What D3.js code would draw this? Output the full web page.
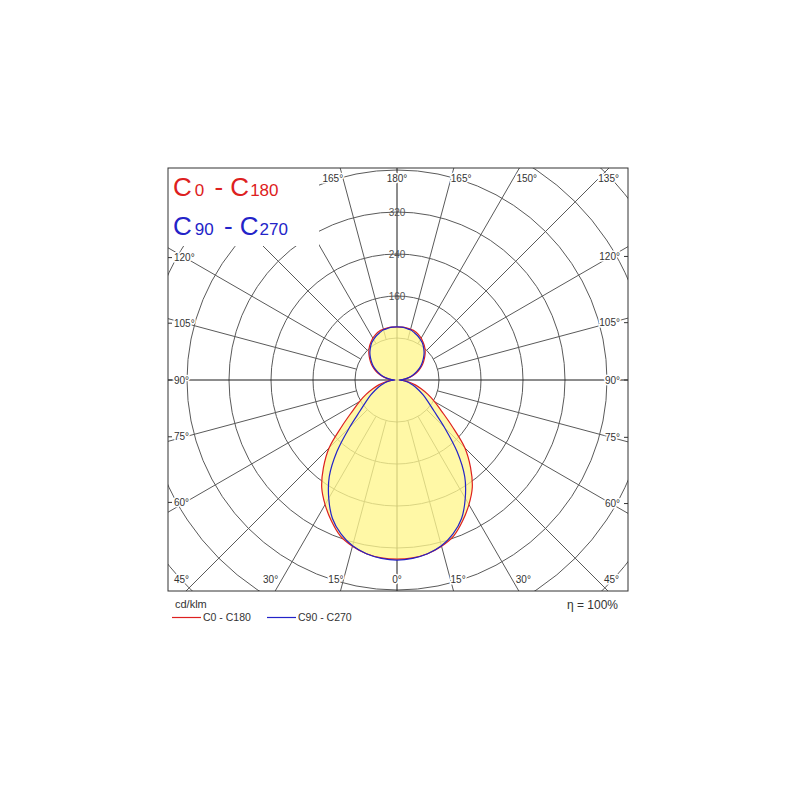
<!DOCTYPE html>
<html><head><meta charset="utf-8">
<script src="https://cdn.jsdelivr.net/npm/d3@7"></script>
<style>body{margin:0;background:#fff;} svg{display:block;font-family:Arial,"Liberation Sans",sans-serif;}</style>
</head><body><svg id="chart" width="800" height="800"></svg>
<script>
// gamma angle (0 = straight down, 180 = straight up), degrees
const gammaAngles = [0,5,10,15,20,25,30,35,40,45,50,55,60,65,70,75,80,85,90,95,100,105,110,115,120,125,130,135,140,145,150,155,160,165,170,175,180];
// luminous intensity, cd/klm
const c0c180  = [341,340,336,328,316,296,274,250,218,183,137,104,83,65,49,36,24,13,5,13,21,30,39,47,55,62,69,76,82,87,92,96,99,100,101,101,101];
const c90c270 = [343,341,336,327,312,291,260,225,178,128,92,72,58,46,36,27,19,11,4,12,20,28,36,44,52,59,66,73,79,85,89,93,96,99,100,101,101];
const ringValues = [80,160,240,320,400,480,560,640];
const ringLabels = [160,240,320];
const gridAngles = d3.range(0,360,15);
const seriesNames = ["C0 - C180","C90 - C270"];
const unitLabel = "cd/klm";
const efficiencyLabel = "\u03b7 = 100%";

const svg = d3.select("#chart");
const frame = {x0:168, y0:168, x1:628, y1:591};
const legendBox = {x:168, y:168, w:151, h:78};
const cx = 397, cy = 380;
const r = d3.scaleLinear().domain([0,80]).range([0,42]);
const red = "#dd2020", blue = "#2323c8";

svg.append("defs").append("clipPath").attr("id","clip")
  .append("rect").attr("x",frame.x0).attr("y",frame.y0)
  .attr("width",frame.x1-frame.x0).attr("height",frame.y1-frame.y0);

const g = svg.append("g").attr("clip-path","url(#clip)");
const c = g.append("g").attr("transform",`translate(${cx},${cy})`);

// rings
c.selectAll("circle.ring").data(ringValues).join("circle")
  .attr("r",d=>r(d)).attr("fill","none").attr("stroke","#5a5a5a").attr("stroke-width",1);
// radial lines
const rad = a => a*Math.PI/180;
c.selectAll("line.rad").data(gridAngles).join("line")
  .attr("x1",d=> d%90===0 ? 0 : r(80)*Math.sin(rad(d)))
  .attr("y1",d=> d%90===0 ? 0 : -r(80)*Math.cos(rad(d)))
  .attr("x2",d=>500*Math.sin(rad(d)))
  .attr("y2",d=>-500*Math.cos(rad(d)))
  .attr("stroke",d=>d%90===0?"#1a1a1a":"#5a5a5a").attr("stroke-width",1);

// curves
function pts(vals){
  const p=[];
  gammaAngles.forEach((gm,i)=>p.push({a:Math.PI-rad(gm), v:vals[i]}));
  for(let i=gammaAngles.length-2;i>=1;i--) p.push({a:Math.PI+rad(gammaAngles[i]), v:vals[i]});
  return p;
}
const line = d3.lineRadial().angle(d=>d.a).radius(d=>r(d.v)).curve(d3.curveCatmullRomClosed.alpha(0.5));
const fillG = c.append("g").attr("opacity",0.78);
[c0c180,c90c270].forEach(v=>fillG.append("path").attr("d",line(pts(v))).attr("fill","#fff78e"));
c.append("path").attr("d",line(pts(c0c180))).attr("fill","none").attr("stroke",red).attr("stroke-width",1.2);
c.append("path").attr("d",line(pts(c90c270))).attr("fill","none").attr("stroke",blue).attr("stroke-width",1.2);

// ring labels
c.selectAll("text.rl").data(ringLabels).join("text")
  .attr("x",0).attr("y",d=>-r(d)+3.5).attr("text-anchor","middle")
  .attr("font-size",10).attr("fill","#555").text(d=>d);

// legend background box (covers grid in the top-left corner)
svg.append("rect").attr("x",legendBox.x).attr("y",legendBox.y).attr("width",legendBox.w).attr("height",legendBox.h).attr("fill","#fff");

// angle labels
const lab = svg.append("g").attr("font-size",10).attr("fill","#333");
gridAngles.forEach(th=>{
  const val = th<=180 ? 180-th : th-180;
  const s = Math.sin(rad(th)), co = -Math.cos(rad(th));
  const ts = [];
  if (co<-1e-9) ts.push({t:(frame.y0-cy)/co, e:"top"});
  if (co>1e-9) ts.push({t:(frame.y1-cy)/co, e:"bottom"});
  if (s<-1e-9) ts.push({t:(frame.x0-cx)/s, e:"left"});
  if (s>1e-9) ts.push({t:(frame.x1-cx)/s, e:"right"});
  ts.sort((a,b)=>a.t-b.t);
  const hit = ts[0];
  let x,y,anchor,yc=null;
  if (hit.e==="top"||hit.e==="bottom"){
    const px = cx + hit.t*s;
    y = hit.e==="top" ? frame.y0+14 : frame.y1-8;
    if (Math.abs(s)<1e-6){ x=px; anchor="middle"; }
    else if (s>0){ x=px-3; anchor="start"; }
    else { x=px+3; anchor="end"; }
  } else {
    const lx = hit.e==="left" ? frame.x0+17 : frame.x1-17;
    yc = cy + ((lx-cx)/s)*co;
    y = yc+3.5;
    if (hit.e==="left"){ x=frame.x0+6; anchor="start"; }
    else { x=frame.x1-8; anchor="end"; }
  }
  const t = lab.append("text").attr("x",x).attr("y",y).attr("text-anchor",anchor)
    .attr("stroke","#fff").attr("stroke-width",3).attr("paint-order","stroke")
    .text(val+"\u00b0");
  let bb = t.node().getBBox();
  if (bb.x+bb.width > frame.x1-8){ t.attr("text-anchor","end").attr("x",frame.x1-9); }
  if (bb.x < frame.x0+6){ t.attr("text-anchor","start").attr("x",frame.x0+6); }
  bb = t.node().getBBox();
  const mx = bb.x+bb.width/2, my = bb.y+bb.height/2;
  if (mx < legendBox.x+legendBox.w && my < legendBox.y+legendBox.h){ t.remove(); return; }
  if (yc!==null){
    svg.append("line").attr("x1",hit.e==="left"?frame.x0:frame.x1).attr("x2",hit.e==="left"?frame.x0+4:frame.x1-4)
      .attr("y1",yc).attr("y2",yc).attr("stroke","#333");
  }
});

// frame
svg.append("rect").attr("x",frame.x0).attr("y",frame.y0)
  .attr("width",frame.x1-frame.x0).attr("height",frame.y1-frame.y0)
  .attr("fill","none").attr("stroke","#333").attr("stroke-width",1);

// big legend
function bigLegend(y, color, a, b){
  const t = svg.append("text").attr("x",173).attr("y",y).attr("fill",color);
  t.append("tspan").attr("font-size",26).text("C");
  t.append("tspan").attr("font-size",17).attr("dx",3).text(a);
  t.append("tspan").attr("font-size",26).attr("dx",3).text(" - C");
  t.append("tspan").attr("font-size",17).attr("dx",1).text(b);
}
bigLegend(196, red, "0", "180");
bigLegend(235, blue, "90", "270");

// bottom legend
svg.append("text").attr("x",175).attr("y",608).attr("font-size",11).attr("fill","#333").text(unitLabel);
[[red,172,seriesNames[0]],[blue,267,seriesNames[1]]].forEach(([col,x0,name])=>{
  svg.append("line").attr("x1",x0).attr("x2",x0+29).attr("y1",617.5).attr("y2",617.5).attr("stroke",col).attr("stroke-width",1.2);
  svg.append("text").attr("x",x0+31).attr("y",621).attr("font-size",10.5).attr("fill","#333").text(name);
});
svg.append("text").attr("x",618).attr("y",609).attr("text-anchor","end").attr("font-size",12).attr("fill","#333").text(efficiencyLabel);
</script></body></html>
